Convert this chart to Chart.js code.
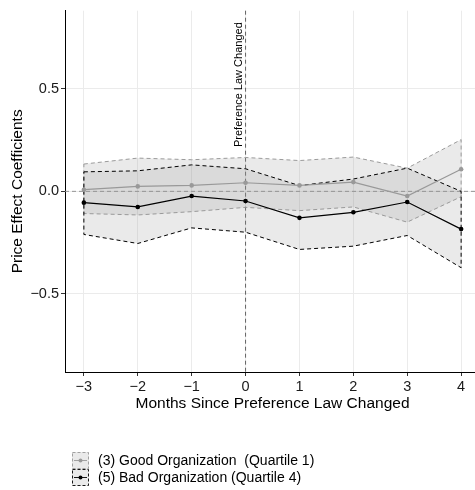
<!DOCTYPE html>
<html>
<head>
<meta charset="utf-8">
<script src="https://cdn.jsdelivr.net/npm/chart.js@4.4.1/dist/chart.umd.min.js"></script>
<style>
  html, body { margin: 0; padding: 0; background: #fff; overflow: hidden; }
  #wrap { width: 484px; height: 490px; position: relative; }
</style>
</head>
<body>
<div id="wrap"><canvas id="graph1"></canvas></div>
<script>
// months relative to the law change
const months = [-3, -2, -1, 0, 1, 2, 3, 4];

// (3) Good Organization (Quartile 1)
const goodCoef  = [0.008, 0.024, 0.029, 0.042, 0.029, 0.045, -0.023, 0.108];
const goodUpper = [0.133, 0.162, 0.154, 0.165, 0.150, 0.167, 0.113, 0.252];
const goodLower = [-0.108, -0.115, -0.099, -0.078, -0.094, -0.076, -0.150, -0.026];

// (5) Bad Organization (Quartile 4)
const badCoef  = [-0.055, -0.076, -0.023, -0.047, -0.129, -0.102, -0.052, -0.184];
const badUpper = [0.095, 0.100, 0.129, 0.110, 0.028, 0.060, 0.113, 0.000];
const badLower = [-0.210, -0.254, -0.178, -0.199, -0.283, -0.267, -0.215, -0.372];

const yTicks = [-0.5, 0, 0.5];
const seriesNames = ['(3) Good Organization  (Quartile 1)', '(5) Bad Organization (Quartile 4)'];
const eventLabel = 'Preference Law Changed';

const FONT = '"Liberation Sans", Arial, sans-serif';
const minus = s => String(s).replace('-', '\u2212');

// ribbon as closed polygon : upper band forward, lower band backward
function ribbon (upper, lower) {
  const pts = months.map((m, i) => ({ x: m, y: upper[i] }));
  for (let i = months.length - 1; i >= 0; i--) pts.push({ x: months[i], y: lower[i] });
  pts.push(pts[0]);
  return pts;
}
const line = vals => months.map((m, i) => ({ x: m, y: vals[i] }));

// dashed reference lines + label
const refLines = {
  id: 'refLines',
  beforeDatasetsDraw (chart) {
    const { ctx, chartArea: a, scales: { x, y } } = chart;
    const x0 = x.getPixelForValue(0), y0 = y.getPixelForValue(0);
    ctx.save();
    ctx.lineWidth = 0.9;
    ctx.setLineDash([4, 3]);
    ctx.strokeStyle = '#8a8a8a';
    ctx.beginPath(); ctx.moveTo(a.left, y0); ctx.lineTo(a.right, y0); ctx.stroke();
    ctx.strokeStyle = '#555';
    ctx.beginPath(); ctx.moveTo(x0, a.top); ctx.lineTo(x0, a.bottom); ctx.stroke();
    ctx.restore();
  },
  afterDatasetsDraw (chart) {
    const { ctx, scales: { x } } = chart;
    const x0 = x.getPixelForValue(0);
    ctx.save();
    ctx.translate(x0 - 7, 147);
    ctx.rotate(-Math.PI / 2);
    ctx.font = '11px ' + FONT;
    ctx.fillStyle = '#000';
    ctx.textAlign = 'left';
    ctx.textBaseline = 'middle';
    ctx.fillText(eventLabel, 0, 0);
    ctx.restore();
  }
};

// ggplot style legend under the plot
const bottomLegend = {
  id: 'bottomLegend',
  afterDraw (chart) {
    const ctx = chart.ctx;
    const keys = [
      { edge: '#999', line: '#999' },
      { edge: '#000', line: '#000' }
    ];
    ctx.save();
    keys.forEach((k, i) => {
      const bx = 72, by = 452 + i * 17, bw = 17, bh = 17;
      ctx.fillStyle = 'rgba(150,150,150,0.2)';
      ctx.fillRect(bx, by, bw, bh);
      ctx.setLineDash([3, 2]);
      ctx.lineWidth = 0.9;
      ctx.strokeStyle = k.edge;
      ctx.strokeRect(bx + 0.5, by + 0.5, bw - 1, bh - 1);
      ctx.setLineDash([]);
      ctx.strokeStyle = k.line;
      ctx.beginPath(); ctx.moveTo(bx + 2, by + bh / 2); ctx.lineTo(bx + bw - 2, by + bh / 2); ctx.stroke();
      ctx.fillStyle = k.line;
      ctx.beginPath(); ctx.arc(bx + bw / 2, by + bh / 2, 2, 0, Math.PI * 2); ctx.fill();
      ctx.fillStyle = '#000';
      ctx.font = '14px ' + FONT;
      ctx.textBaseline = 'middle';
      ctx.fillText(seriesNames[i], 98, by + bh / 2 + 1);
    });
    ctx.restore();
  }
};

const ctx = document.getElementById('graph1');
const graph = new Chart(ctx, {
  type: 'line',
  data: {
    datasets: [
      {
        label: seriesNames[0] + ' band',
        data: ribbon(goodUpper, goodLower),
        order: 4,
        fill: 'shape',
        backgroundColor: 'rgba(150,150,150,0.2)',
        borderColor: '#9a9a9a',
        borderWidth: 1,
        borderDash: [4, 3],
        pointRadius: 0,
        tension: 0
      },
      {
        label: seriesNames[1] + ' band',
        data: ribbon(badUpper, badLower),
        order: 3,
        fill: 'shape',
        backgroundColor: 'rgba(150,150,150,0.2)',
        borderColor: '#000',
        borderWidth: 1,
        borderDash: [4, 3],
        pointRadius: 0,
        tension: 0
      },
      {
        label: seriesNames[0],
        data: line(goodCoef),
        order: 2,
        fill: false,
        borderColor: '#999',
        backgroundColor: '#999',
        borderWidth: 1.2,
        pointRadius: 2.3,
        pointBorderWidth: 0
      },
      {
        label: seriesNames[1],
        data: line(badCoef),
        order: 1,
        fill: false,
        borderColor: '#000',
        backgroundColor: '#000',
        borderWidth: 1.2,
        pointRadius: 2.3,
        pointBorderWidth: 0
      }
    ]
  },
  options: {
    responsive: true,
    maintainAspectRatio: false,
    animation: false,
    layout: { padding: { top: 8, right: 0, bottom: 74, left: 0 } },
    plugins: {
      legend: { display: false },
      tooltip: { enabled: false }
    },
    scales: {
      x: {
        type: 'linear',
        min: -3.35,
        max: 4.35,
        afterFit: s => { s.height = 44; },
        ticks: {
          stepSize: 1,
          includeBounds: false,
          padding: 2,
          color: '#1a1a1a',
          font: { family: FONT, size: 14.5 },
          callback: v => minus(v)
        },
        grid: { color: '#ebebeb', tickColor: '#333', tickLength: 4 },
        border: { color: '#000', width: 1 },
        title: {
          display: true,
          text: 'Months Since Preference Law Changed',
          color: '#000',
          font: { family: FONT, size: 15.5 },
          padding: { top: 2, bottom: 3 }
        }
      },
      y: {
        min: -0.88,
        max: 0.88,
        afterFit: s => { s.width = 65; },
        afterBuildTicks: s => { s.ticks = yTicks.map(v => ({ value: v })); },
        ticks: {
          padding: 2,
          color: '#1a1a1a',
          font: { family: FONT, size: 14.5 },
          callback: v => minus(Number(v).toFixed(1))
        },
        grid: { color: '#ebebeb', tickColor: '#333', tickLength: 4 },
        border: { color: '#000', width: 1 },
        title: {
          display: true,
          text: 'Price Effect Coefficients',
          color: '#000',
          font: { family: FONT, size: 15.5 },
          padding: { top: 8, bottom: 0 }
        }
      }
    }
  },
  plugins: [refLines, bottomLegend]
});
</script>
</body>
</html>
